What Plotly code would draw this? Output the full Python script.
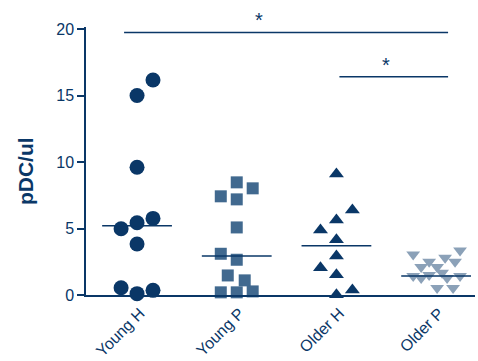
import plotly.graph_objects as go

# ---- data ----
groups = ["Young H", "Young P", "Older H", "Older P"]

young_h = [16.16, 15.0, 9.6, 4.98, 5.43, 5.76, 3.83, 0.55, 0.1, 0.35]
young_p = [8.47, 8.02, 7.42, 7.19, 5.08, 3.1, 2.65, 1.47, 1.1, 0.2, 0.2, 0.27]
older_h = [9.09, 6.39, 5.64, 4.89, 4.16, 2.93, 2.05, 1.53, 0.37, 0.02]
older_p = [3.05, 2.5, 2.8, 3.35, 2.5, 2.1, 2.1, 1.68, 1.43, 1.28, 1.5, 1.28, 1.43, 0.52, 0.52]

# horizontal scatter (column) offsets within each group, in category units
jit_young_h = [0.16, 0, 0, -0.16, 0, 0.16, 0, -0.16, 0, 0.16]
jit_young_p = [0, 0.16, -0.16, 0, 0, -0.16, 0, -0.09, 0.08, -0.16, 0, 0.16]
jit_older_h = [0, 0.16, 0, -0.16, 0, 0, -0.16, 0, 0.16, 0]
jit_older_p = [-0.23, -0.07, 0.09, 0.24, 0.19, -0.15, 0.01, 0.06, -0.23, -0.15, -0.07, 0.11, 0.24, 0.01, 0.17]

medians = [5.2, 2.93, 3.7, 1.43]

sig_from = [0, 2]
sig_to = [3, 3]
sig_level = [19.74, 16.41]
sig_text = ["*", "*"]
sig_star_pos = [1.22, 2.5]

yticks = [0, 5, 10, 15, 20]

NAVY = "#0A3767"
MID = "#41698F"
LIGHT = "#8BA1B8"

series = [
    (young_h, jit_young_h, "circle", 15, NAVY),
    (young_p, jit_young_p, "square", 12, MID),
    (older_h, jit_older_h, "triangle-up", 13, NAVY),
    (older_p, jit_older_p, "triangle-down", 12, LIGHT),
]

fig = go.Figure()
for i, (vals, jit, sym, sz, col) in enumerate(series):
    fig.add_trace(go.Scatter(
        x=[i + j for j in jit], y=vals, mode="markers",
        marker=dict(symbol=sym, size=sz, color=col, line=dict(width=0)),
        cliponaxis=False, showlegend=False, hoverinfo="y"))

for i, m in enumerate(medians):
    fig.add_trace(go.Scatter(
        x=[i - 0.35, i + 0.35], y=[m, m], mode="lines",
        line=dict(color=NAVY, width=1.5), cliponaxis=False,
        showlegend=False, hoverinfo="skip"))

for a, b, lvl, t, sx in zip(sig_from, sig_to, sig_level, sig_text, sig_star_pos):
    x0 = a - 0.13 if a == 0 else a + 0.03
    x1 = b + 0.12
    fig.add_trace(go.Scatter(
        x=[x0, x1], y=[lvl, lvl], mode="lines",
        line=dict(color=NAVY, width=1.5), cliponaxis=False,
        showlegend=False, hoverinfo="skip"))
    fig.add_annotation(x=sx, y=lvl, text=t, showarrow=False,
                       xanchor="center", yanchor="bottom", yshift=-1,
                       font=dict(size=20, color=NAVY, family="Arial, Liberation Sans"))

fig.add_annotation(x=-0.157, xref="paper", y=0.462, yref="paper",
                   text="<b>pDC/ul</b>", textangle=-90, showarrow=False,
                   xanchor="center", yanchor="middle",
                   font=dict(size=21, color=NAVY, family="Arial, Liberation Sans"))

fig.update_layout(
    width=478, height=361,
    margin=dict(l=86, r=3, t=27, b=66),
    paper_bgcolor="white", plot_bgcolor="white",
    font=dict(family="Arial, Liberation Sans", color=NAVY, size=16),
    xaxis=dict(range=[-0.512, 3.39], tickvals=list(range(len(groups))),
               ticktext=groups, tickangle=-45, showgrid=False, zeroline=False,
               showline=True, linecolor=NAVY, linewidth=1.5, ticks="",
               ticklabelshift=3, ticklabelstandoff=1,
               automargin=False, tickfont=dict(size=16, color=NAVY)),
    yaxis=dict(range=[0, 20.15], tickvals=yticks, showgrid=False, zeroline=False,
               showline=True, linecolor=NAVY, linewidth=1.5, ticks="outside",
               ticklen=7, tickwidth=1.5, tickcolor=NAVY, automargin=False,
               tickfont=dict(size=16, color=NAVY)),
)

fig.write_html("out.html", config={"displayModeBar": False},
               post_script="document.body.style.margin='0';document.body.style.padding='0';")
